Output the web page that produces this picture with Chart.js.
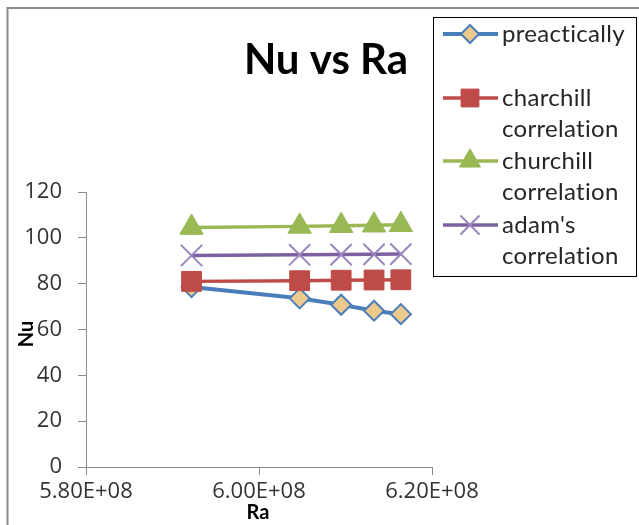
<!DOCTYPE html>
<html>
<head>
<meta charset="utf-8">
<script src="https://cdn.jsdelivr.net/npm/chart.js@4/dist/chart.umd.min.js"></script>
<style>
  html, body { margin: 0; padding: 0; background: #fff; }
  #wrap { position: relative; width: 639px; height: 525px; }
  canvas { display: block; }
</style>
</head>
<body>
<div id="wrap"><canvas id="c" width="639" height="525"></canvas></div>
<script>
// Rayleigh numbers (x) and Nusselt numbers (y) for each correlation
const raValues = [5.922e8, 6.047e8, 6.095e8, 6.133e8, 6.164e8];
const nuPractical = [78.5, 73.6, 70.8, 68.2, 66.7];
const nuCharchill = [81.0, 81.3, 81.5, 81.6, 81.7];
const nuChurchill = [104.5, 105.0, 105.3, 105.5, 105.7];
const nuAdam = [92.3, 92.6, 92.7, 92.8, 92.9];

const seriesNames = ['preactically', 'charchill correlation', 'churchill correlation', "adam's correlation"];
const xTicks = [5.8e8, 6.0e8, 6.2e8];
const yTicks = [0, 20, 40, 60, 80, 100, 120];

const FONT = 'Lato, "Open Sans", sans-serif';
const TICK_FONT = '"Open Sans", Lato, sans-serif';

function sciLabel(v) {
  const e = Math.floor(Math.log10(Math.abs(v)));
  const m = v / Math.pow(10, e);
  return m.toFixed(2) + 'E+' + String(e).padStart(2, '0');
}

const pts = arr => arr.map((y, i) => ({ x: raValues[i], y }));

const styles = [
  { color: '#4A7EBB', width: 4, point: 'rectRot', radius: 10, fill: '#EEC98C', border: '#4A7EBB', pbw: 2 },
  { color: '#BE4B48', width: 3.5, point: 'rect', radius: 14, fill: '#BE4B48', border: '#BE4B48', pbw: 1 },
  { color: '#98B954', width: 3.5, point: 'triangle', radius: 13.5, fill: '#98B954', border: '#98B954', pbw: 1 },
  { color: '#7D60A0', width: 3.5, point: 'crossRot', radius: 15, fill: '#9A86BE', border: '#9A86BE', pbw: 2 }
];
const values = [nuPractical, nuCharchill, nuChurchill, nuAdam];

const datasets = values.map((v, i) => ({
  label: seriesNames[i],
  data: pts(v),
  borderColor: styles[i].color,
  borderWidth: styles[i].width,
  pointStyle: styles[i].point,
  pointRadius: styles[i].radius,
  pointBackgroundColor: styles[i].fill,
  pointBorderColor: styles[i].border,
  pointBorderWidth: styles[i].pbw,
  tension: 0,
  fill: false,
  order: 4 - i
}));

// Title, axis titles, frame and a two-line legend drawn onto the canvas
const decorations = {
  id: 'decorations',
  afterDraw(chart) {
    const ctx = chart.ctx;
    ctx.save();

    // outer frame edges
    ctx.strokeStyle = '#8a8a8a';
    ctx.lineWidth = 2;
    ctx.beginPath();
    ctx.moveTo(7.5, 525);
    ctx.lineTo(7.5, 8);
    ctx.lineTo(639, 8);
    ctx.stroke();

    // title
    ctx.fillStyle = '#000';
    ctx.font = 'bold 42px ' + FONT;
    ctx.textAlign = 'center';
    ctx.textBaseline = 'alphabetic';
    ctx.fillText('Nu vs Ra', 326, 74);

    // axis titles
    ctx.font = 'bold 20px ' + FONT;
    ctx.textBaseline = 'middle';
    ctx.fillText('Ra', 258, 513);
    ctx.save();
    ctx.translate(27, 334);
    ctx.rotate(-Math.PI / 2);
    ctx.fillText('Nu', 0, 0);
    ctx.restore();

    // legend box
    ctx.fillStyle = '#fff';
    ctx.fillRect(433, 17, 203, 259);
    ctx.strokeStyle = '#000';
    ctx.lineWidth = 1;
    ctx.strokeRect(433.5, 17.5, 203, 259);

    const lines = [
      { series: 0, text: ['preactically'], y: 34 },
      { series: 1, text: ['charchill', 'correlation'], y: 98 },
      { series: 2, text: ['churchill', 'correlation'], y: 161 },
      { series: 3, text: ["adam's", 'correlation'], y: 225 }
    ];
    const lh = 31.5;
    ctx.font = '24px ' + FONT;
    if ('letterSpacing' in ctx) ctx.letterSpacing = '0.3px';
    ctx.textAlign = 'left';
    ctx.textBaseline = 'middle';
    lines.forEach(entry => {
      const s = styles[entry.series];
      ctx.strokeStyle = s.color;
      ctx.lineWidth = s.width;
      ctx.beginPath();
      ctx.moveTo(443, entry.y);
      ctx.lineTo(498, entry.y);
      ctx.stroke();
      ctx.fillStyle = s.fill;
      ctx.strokeStyle = s.border;
      ctx.lineWidth = s.pbw;
      Chart.helpers.drawPoint(ctx, {
        pointStyle: s.point,
        radius: s.radius * 0.9,
        rotation: 0,
        borderWidth: s.pbw
      }, 470, entry.y);
      ctx.fillStyle = '#262626';
      entry.text.forEach((t, k) => ctx.fillText(t, 502, entry.y + k * lh));
    });

    ctx.restore();
  }
};

new Chart(document.getElementById('c'), {
  type: 'line',
  data: { datasets },
  options: {
    responsive: false,
    animation: false,
    layout: { padding: { left: 0, top: 192, right: 207, bottom: 0 } },
    plugins: { legend: { display: false }, title: { display: false }, tooltip: { enabled: false } },
    scales: {
      x: {
        type: 'linear',
        min: xTicks[0],
        max: xTicks[xTicks.length - 1],
        afterBuildTicks: s => { s.ticks = xTicks.map(v => ({ value: v })); },
        afterFit: s => { s.height = 58; },
        ticks: {
          callback: v => sciLabel(v),
          color: '#333',
          font: { family: TICK_FONT, size: 22 },
          padding: 4,
          maxRotation: 0,
          autoSkip: false
        },
        grid: { drawOnChartArea: false, tickLength: 8, color: '#8a8a8a' },
        border: { color: '#8a8a8a', width: 1 }
      },
      y: {
        min: yTicks[0],
        max: yTicks[yTicks.length - 1],
        afterBuildTicks: s => { s.ticks = yTicks.map(v => ({ value: v })); },
        afterFit: s => { s.width = 86; },
        ticks: {
          color: '#333',
          font: { family: TICK_FONT, size: 22 },
          padding: 16
        },
        grid: { drawOnChartArea: false, tickLength: 8, color: '#8a8a8a' },
        border: { color: '#8a8a8a', width: 1 }
      }
    }
  },
  plugins: [decorations]
});
</script>
</body>
</html>
